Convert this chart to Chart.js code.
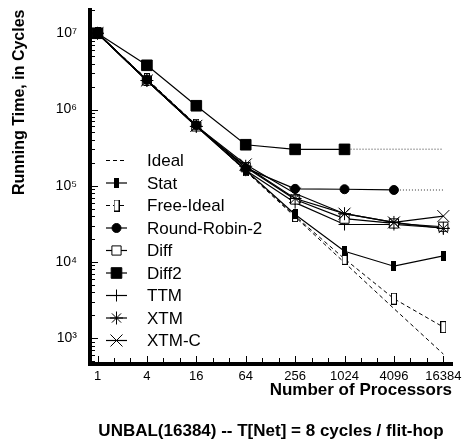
<!DOCTYPE html>
<html>
<head>
<meta charset="utf-8">
<title>UNBAL(16384) running time</title>
<script src="https://cdn.jsdelivr.net/npm/chart.js@4.4.1/dist/chart.umd.min.js"></script>
<style>
  html, body { margin: 0; padding: 0; background: #fff; }
  #wrap { width: 468px; height: 446px; }
</style>
</head>
<body>
<div id="wrap"><canvas id="runtimeChart" width="468" height="446"></canvas></div>
<script>
// Values (log-log plot)
const processors = [1, 4, 16, 64, 256, 1024, 4096, 16384];
const xTickLabels = ['1', '4', '16', '64', '256', '1024', '4096', '16384'];
const yTickValues = [1e3, 1e4, 1e5, 1e6, 1e7];
const yTickLabels = ['10\u00B3', '10\u2074', '10\u2075', '10\u2076', '10\u2077'];

const ideal       = [1.0e7, 2.5e6, 6.2e5, 1.55e5, 3.9e4, 9.8e3, 2.45e3, 6.2e2];
const stat        = [1.0e7, 2.4e6, 6.0e5, 1.6e5, 4.2e4, 1.38e4, 8.8e3, 1.2e4];
const freeIdeal   = [1.0e7, 2.5e6, 6.3e5, 1.6e5, 4.0e4, 1.1e4, 3.3e3, 1.4e3];
const roundRobin2 = [1.0e7, 2.45e6, 6.2e5, 1.7e5, 9.1e4, 9.0e4, 8.8e4, null];
const diff        = [1.0e7, 2.4e6, 6.0e5, 1.75e5, 6.6e4, 3.7e4, 3.2e4, 2.9e4];
const diff2       = [1.0e7, 3.8e6, 1.12e6, 3.45e5, 3.0e5, 3.0e5, null, null];
const ttm         = [1.0e7, 2.4e6, 6.0e5, 1.6e5, 6.0e4, 3.1e4, 3.1e4, 2.8e4];
const xtm         = [1.0e7, 2.4e6, 6.0e5, 1.8e5, 6.8e4, 4.3e4, 3.3e4, 2.75e4];
const xtmC        = [1.0e7, 2.4e6, 6.1e5, 1.9e5, 7.9e4, 4.3e4, 3.3e4, 4.0e4];
// saturated runs, carried on as a dotted level
const diff2Level  = [null, null, null, null, null, 3.0e5, null, 3.0e5];
const rr2Level    = [null, null, null, null, null, null, 8.8e4, 8.8e4];

const FONT = "'Liberation Sans', Arial, Helvetica, sans-serif";

// narrow upright bar markers (filled for Stat, open for Free-Ideal)
function makeBar(w, h, filled) {
  const c = document.createElement('canvas');
  c.width = w;
  c.height = h;
  const g = c.getContext('2d');
  g.fillStyle = filled ? '#000' : '#fff';
  g.fillRect(0, 0, w, h);
  g.strokeStyle = '#000';
  g.lineWidth = 1;
  g.strokeRect(0.5, 0.5, w - 1, h - 1);
  return c;
}
const statBar = makeBar(5, 10, true);
const freeBar = makeBar(6, 12, false);

function pts(vals) {
  return processors
    .map((p, i) => ({ x: p, y: vals[i] }))
    .filter(pt => pt.y != null);
}

function series(label, vals, extra) {
  return Object.assign({
    label: label,
    data: pts(vals),
    borderColor: '#000',
    backgroundColor: '#000',
    borderWidth: 1.2,
    pointBorderColor: '#000',
    pointBackgroundColor: '#000',
    pointBorderWidth: 1,
    pointRadius: 5,
    tension: 0,
    fill: false
  }, extra);
}

const datasets = [
  series('Diff2', diff2, { pointStyle: 'rect', pointRadius: 7.5 }),
  series('Round-Robin-2', roundRobin2, { pointStyle: 'circle', pointRadius: 4.5 }),
  series('XTM-C', xtmC, { pointStyle: 'crossRot', pointRadius: 8.5 }),
  series('XTM', xtm, { pointStyle: 'star', pointRadius: 6.5 }),
  series('Diff', diff, { pointStyle: 'rect', pointRadius: 6.5, pointBackgroundColor: '#fff' }),
  series('TTM', ttm, { pointStyle: 'cross', pointRadius: 6 }),
  series('Stat', stat, { pointStyle: statBar, pointRadius: 4 }),
  series('Free-Ideal', freeIdeal, { pointStyle: freeBar, pointRadius: 4, borderWidth: 1, borderDash: [4, 3] }),
  series('Ideal', ideal, { pointRadius: 0, borderWidth: 1, borderDash: [4, 3] }),
  series('', diff2Level, { pointRadius: 0, borderColor: '#777', borderWidth: 1.5, borderDash: [1, 2], spanGaps: true }),
  series('', rr2Level, { pointRadius: 0, borderColor: '#777', borderWidth: 1.5, borderDash: [1, 2], spanGaps: true })
];

const legendOrder = ['Ideal', 'Stat', 'Free-Ideal', 'Round-Robin-2', 'Diff', 'Diff2', 'TTM', 'XTM', 'XTM-C'];

// legend drawn inside the plot, down the left side
const insideLegend = {
  id: 'insideLegend',
  afterDraw(chart) {
    const { ctx, chartArea } = chart;
    const x0 = chartArea.left + 16;
    const x1 = chartArea.left + 37;
    const mx = chartArea.left + 26.5;
    const tx = chartArea.left + 57;
    ctx.save();
    legendOrder.forEach((name, i) => {
      const ds = chart.data.datasets.find(d => d.label === name);
      const y = chartArea.top + 151 + i * 22.5;
      ctx.setLineDash(ds.borderDash || []);
      ctx.strokeStyle = '#000';
      ctx.lineWidth = ds.borderWidth;
      ctx.beginPath();
      ctx.moveTo(x0, y);
      ctx.lineTo(x1, y);
      ctx.stroke();
      ctx.setLineDash([]);
      if (ds.pointRadius > 0) {
        ctx.fillStyle = ds.pointBackgroundColor;
        ctx.strokeStyle = '#000';
        ctx.lineWidth = 1;
        Chart.helpers.drawPoint(ctx, {
          pointStyle: ds.pointStyle,
          radius: ds.pointRadius,
          rotation: 0,
          borderWidth: 1
        }, mx, y);
      }
      ctx.fillStyle = '#000';
      ctx.font = '17px ' + FONT;
      ctx.textAlign = 'left';
      ctx.textBaseline = 'middle';
      ctx.fillText(name, tx, y + 1);
    });
    ctx.restore();
  }
};

// short tick marks pointing into the plot
const innerTicks = {
  id: 'innerTicks',
  afterDraw(chart) {
    const { ctx, chartArea: a, scales: { x, y } } = chart;
    ctx.save();
    ctx.strokeStyle = '#000';
    ctx.lineWidth = 1;
    ctx.beginPath();
    for (let k = 2; k <= 7; k++) {
      for (let m = 1; m <= 9; m++) {
        const v = m * Math.pow(10, k);
        if (v < y.min || v > y.max) continue;
        const py = Math.round(y.getPixelForValue(v)) + 0.5;
        ctx.moveTo(a.left + 2, py);
        ctx.lineTo(a.left + 2 + (m === 1 ? 6 : 3), py);
      }
    }
    processors.forEach(p => {
      [1, 1.59, 2.52].forEach((f, j) => {
        const v = p * f;
        if (v > x.max) return;
        const px = Math.round(x.getPixelForValue(v)) + 0.5;
        ctx.moveTo(px, a.bottom - 2);
        ctx.lineTo(px, a.bottom - 2 - (j === 0 ? 6 : 4));
      });
    });
    ctx.stroke();
    ctx.restore();
  }
};

function noEdgePadding(s) {
  s.paddingTop = 0;
  s.paddingBottom = 0;
  s.paddingLeft = 0;
  s.paddingRight = 0;
}

const ctx = document.getElementById('runtimeChart').getContext('2d');
new Chart(ctx, {
  type: 'line',
  data: { datasets: datasets },
  plugins: [insideLegend, innerTicks],
  options: {
    responsive: false,
    animation: false,
    devicePixelRatio: 1,
    layout: { padding: { left: 0, right: 16, top: 6, bottom: 0 } },
    scales: {
      x: {
        type: 'logarithmic',
        min: 0.81,
        max: 20900,
        afterBuildTicks: s => { s.ticks = processors.map(v => ({ value: v })); },
        afterFit: s => { s.height = 57.6; noEdgePadding(s); },
        grid: { display: false, drawTicks: false },
        border: { display: true, width: 4, color: '#000' },
        ticks: {
          autoSkip: false,
          maxRotation: 0,
          padding: 5,
          color: '#000',
          font: { family: FONT, size: 13 },
          callback: (v, i) => xTickLabels[i]
        },
        title: {
          display: true,
          text: 'Number of Processors',
          align: 'end',
          color: '#000',
          font: { family: FONT, size: 17, weight: 'bold' },
          padding: { top: 0, bottom: 21 }
        }
      },
      y: {
        type: 'logarithmic',
        min: 459,
        max: 2.05e7,
        afterBuildTicks: s => { s.ticks = yTickValues.map(v => ({ value: v })); },
        afterFit: s => { s.width = 90; noEdgePadding(s); },
        grid: { display: false, drawTicks: false },
        border: { display: true, width: 4, color: '#000' },
        ticks: {
          autoSkip: false,
          padding: 13,
          color: '#000',
          font: { family: FONT, size: 14 },
          callback: (v, i) => yTickLabels[i]
        },
        title: {
          display: true,
          text: 'Running Time, in Cycles',
          align: 'end',
          color: '#000',
          font: { family: FONT, size: 16, weight: 'bold' },
          padding: { top: 10, bottom: 0 }
        }
      }
    },
    plugins: {
      legend: { display: false },
      tooltip: { enabled: false },
      title: {
        display: true,
        position: 'bottom',
        fullSize: false,
        text: 'UNBAL(16384) -- T[Net] = 8 cycles / flit-hop',
        color: '#000',
        font: { family: FONT, size: 17, weight: 'bold' },
        padding: { top: 0, bottom: 4 }
      }
    }
  }
});
</script>
</body>
</html>
